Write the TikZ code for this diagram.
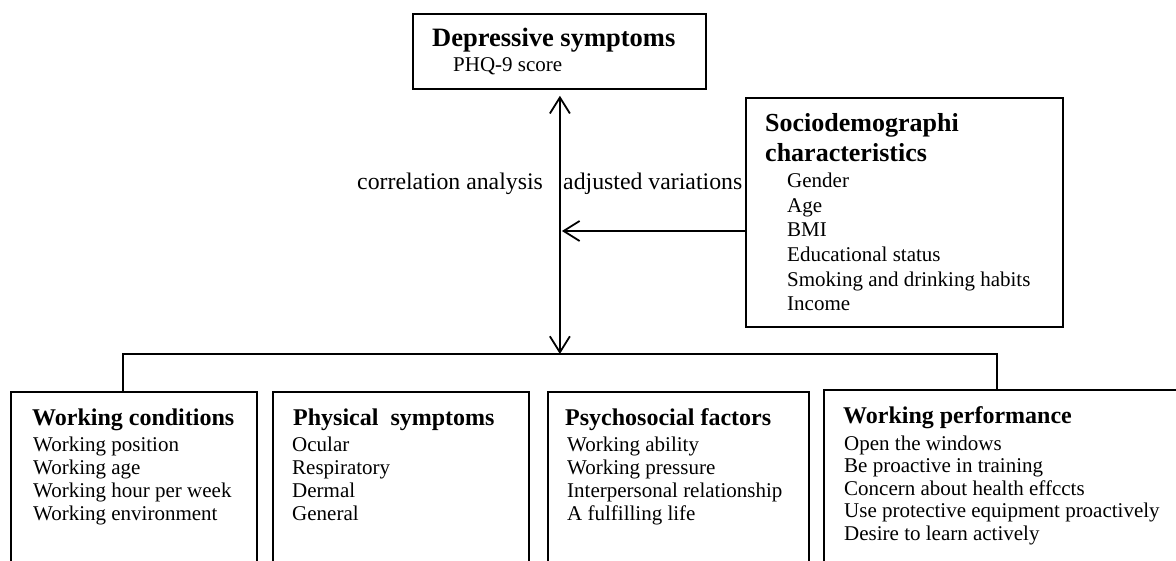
\documentclass[tikz,border=0pt]{standalone}
\usepackage{fontspec}
\setmainfont{Liberation Serif}
\usetikzlibrary{arrows.meta}
\begin{document}
\begin{tikzpicture}[x=1pt,y=-1pt,
  box/.style={draw, line width=1.8pt, inner sep=0pt, anchor=north west},
  bigttl/.style={anchor=base west, inner sep=0pt, font=\fontsize{26.5}{30}\selectfont\bfseries},
  ttl/.style={anchor=base west, inner sep=0pt, font=\fontsize{24}{28}\selectfont\bfseries},
  itm/.style={anchor=base west, inner sep=0pt, font=\fontsize{21}{24}\selectfont},
  lbl/.style={anchor=base west, inner sep=0pt, font=\fontsize{23.8}{27}\selectfont},
  conn/.style={line width=1.8pt},
  barb/.tip={Straight Barb[length=16pt,width=20pt]},
  arr/.style={conn, -barb},
  dblarr/.style={conn, barb-barb},
]
\useasboundingbox (0,0) rectangle (1176,561);
\clip (0,0) rectangle (1176,561);
\fill[white] (0,0) rectangle (1176,561);

% boxes
\node[box, minimum width=293pt, minimum height=75pt] (top) at (412,13) {};
\node[box, minimum width=317pt, minimum height=229pt] (socio) at (745,97) {};
\node[box, minimum width=246pt, minimum height=220pt] (b1) at (10,391) {};
\node[box, minimum width=256pt, minimum height=220pt] (b2) at (272,391) {};
\node[box, minimum width=261pt, minimum height=220pt] (b3) at (547,391) {};
\node[box, minimum width=360pt, minimum height=222pt] (b4) at (823,389) {};

% top box text
\node[bigttl] (tt) at (432,47) {Depressive symptoms};
\node[itm] (tp) at (453,72) {PHQ-9 score};

% socio box text
\node[bigttl, font=\fontsize{26}{30}\selectfont\bfseries] (st1) at (765,132) {Sociodemographi};
\node[bigttl, font=\fontsize{26}{30}\selectfont\bfseries] (st2) at (765,162) {characteristics};
\node[itm] (s1) at (787,188) {Gender};
\node[itm] (s2) at (787,213) {Age};
\node[itm] (s3) at (787,237) {BMI};
\node[itm] (s4) at (787,262) {Educational status};
\node[itm] (s5) at (787,287) {Smoking and drinking habits};
\node[itm] (s6) at (787,311) {Income};

% labels
\node[lbl] (lc) at (357,190) {correlation analysis};
\node[lbl] (la) at (563,190) {adjusted variations};

% bottom box 1
\node[ttl] (h1) at (32,425) {Working conditions};
\node[itm] (a1) at (33,451) {Working position};
\node[itm] (a2) at (33,474) {Working age};
\node[itm] (a3) at (33,497) {Working hour per week};
\node[itm] (a4) at (33,520) {Working environment};

% bottom box 2
\node[ttl] (h2) at (293,425) {Physical\ \ symptoms};
\node[itm] (c1) at (292,451) {Ocular};
\node[itm] (c2) at (292,474) {Respiratory};
\node[itm] (c3) at (292,497) {Dermal};
\node[itm] (c4) at (292,520) {General};

% bottom box 3
\node[ttl] (h3) at (565,425) {Psychosocial factors};
\node[itm] (p1) at (567,451) {Working ability};
\node[itm] (p2) at (567,474) {Working pressure};
\node[itm] (p3) at (567,497) {Interpersonal relationship};
\node[itm] (p4) at (567,520) {A fulfilling life};

% bottom box 4
\node[ttl] (h4) at (843,424) {Working performance};
\node[itm] (w1) at (844,450) {Open the windows};
\node[itm] (w2) at (844,472) {Be proactive in training};
\node[itm] (w3) at (844,495) {Concern about health effccts};
\node[itm] (w4) at (844,517) {Use protective equipment proactively};
\node[itm] (w5) at (844,540) {Desire to learn actively};

% connectors
\coordinate (hub) at ([xshift=0.5pt]top.south |- 0,354);
\coordinate (mid) at ([xshift=2.5pt]top.south |- 0,231);
\coordinate (drop1) at (123,354);
\coordinate (drop4) at (997,354);
\draw[dblarr, shorten <=6pt] ([xshift=0.5pt]top.south) -- (hub);
\draw[arr] (socio.west |- mid) -- (mid);
\draw[conn] (b1.north -| drop1) -- (drop1) -- (drop4) -- (b4.north -| drop4);
\end{tikzpicture}
\end{document}
